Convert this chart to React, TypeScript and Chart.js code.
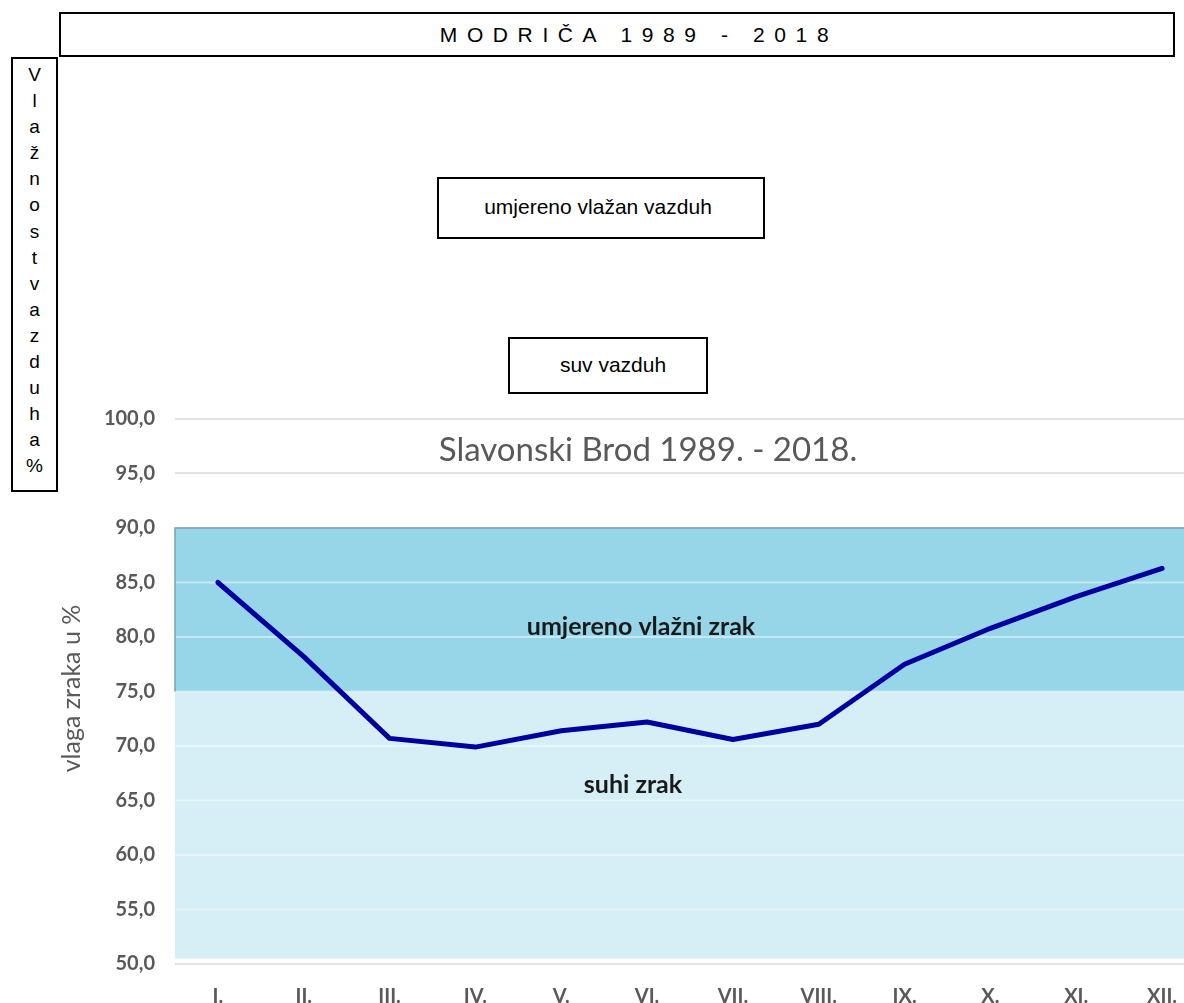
import React, { useEffect, useRef } from "react";
import { Chart, registerables } from "chart.js";

Chart.register(...registerables);

// ---- data ----
const months = ["I.", "II.", "III.", "IV.", "V.", "VI.", "VII.", "VIII.", "IX.", "X.", "XI.", "XII."];
const humidity = [85.0, 78.2, 70.7, 69.9, 71.4, 72.2, 70.6, 72.0, 77.5, 80.8, 83.7, 86.3];
const yTicks = [50, 55, 60, 65, 70, 75, 80, 85, 90, 95, 100];
const bandModerate = [75, 90];
const bandDry = [50.5, 75];
const chartTitle = "Slavonski Brod 1989. - 2018.";
const yAxisTitle = "vlaga zraka u %";
const moderateLabel = "umjereno vlažni zrak";
const dryLabel = "suhi zrak";
const docTitle = "MODRIČA 1989 - 2018";
const docAxisText = "Vlažnost vazduha %";
const boxModerate = "umjereno vlažan vazduh";
const boxDry = "suv vazduh";

const FONT = "Lato, 'Open Sans', sans-serif";
const GRAY = "#595959";

const overlayPlugin = {
  id: "overlay",
  beforeDatasetsDraw(chart: any) {
    const { ctx, chartArea, scales } = chart;
    const y = scales.y;
    const l = chartArea.left;
    const r = chartArea.right;
    const yTop = y.getPixelForValue(bandModerate[1]);
    const yMid = y.getPixelForValue(bandModerate[0]);
    const yBot = y.getPixelForValue(bandDry[0]);
    ctx.save();
    ctx.fillStyle = "#D6EEF6";
    ctx.fillRect(l, yMid, r - l, yBot - yMid);
    ctx.fillStyle = "#97D5E8";
    ctx.fillRect(l, yTop, r - l, yMid - yTop);
    // light grid lines over the bands
    ctx.lineWidth = 2;
    for (const v of yTicks) {
      if (v > bandDry[0] && v < bandModerate[1]) {
        const py = y.getPixelForValue(v);
        ctx.strokeStyle = v > 75 ? "rgba(255,255,255,0.45)" : "rgba(255,255,255,0.4)";
        ctx.beginPath();
        ctx.moveTo(l, py);
        ctx.lineTo(r, py);
        ctx.stroke();
      }
    }
    // band border
    ctx.strokeStyle = "#7F9FAA";
    ctx.lineWidth = 1.5;
    ctx.beginPath();
    ctx.moveTo(l, yMid);
    ctx.lineTo(l, yTop);
    ctx.lineTo(r, yTop);
    ctx.stroke();
    // band labels
    ctx.fillStyle = "#1a1a1a";
    ctx.font = `bold 25px ${FONT}`;
    ctx.textAlign = "center";
    ctx.textBaseline = "middle";
    ctx.fillText(moderateLabel, 641, y.getPixelForValue(80.9));
    ctx.fillText(dryLabel, 633, y.getPixelForValue(66.4));
    // chart title
    ctx.fillStyle = GRAY;
    ctx.font = `33px ${FONT}`;
    ctx.fillText(chartTitle, 648, y.getPixelForValue(97.1));
    // y axis title
    ctx.translate(72, (chartArea.top + chartArea.bottom) / 2 - 3);
    ctx.rotate(-Math.PI / 2);
    ctx.font = `25px ${FONT}`;
    ctx.fillText(yAxisTitle, 0, 0);
    ctx.restore();
  },
};

function ChartCanvas() {
  const ref = useRef<HTMLCanvasElement | null>(null);
  useEffect(() => {
    if (!ref.current) return;
    const chart = new Chart(ref.current, {
      type: "line",
      data: {
        labels: months,
        datasets: [
          {
            data: humidity,
            borderColor: "#0000A0",
            borderWidth: 5,
            pointRadius: 0,
            fill: false,
            tension: 0,
            borderJoinStyle: "round",
            borderCapStyle: "round",
          },
        ],
      },
      options: {
        responsive: false,
        animation: false,
        devicePixelRatio: 1,
        layout: { padding: { top: 19, right: 25, left: 0, bottom: 0 } },
        plugins: { legend: { display: false }, tooltip: { enabled: false }, title: { display: false } },
        scales: {
          x: {
            type: "category",
            offset: true,
            grid: { display: false, drawTicks: false },
            border: { display: false },
            ticks: { padding: 21, color: GRAY, font: { family: FONT, size: 20, weight: "bold" }, maxRotation: 0 },
            afterFit: (s: any) => {
              s.height = 39;
              s.paddingLeft = 0;
              s.paddingRight = 0;
            },
          },
          y: {
            min: 50,
            max: 100,
            afterBuildTicks: (s: any) => {
              s.ticks = yTicks.map((v) => ({ value: v }));
            },
            grid: { color: "#E3E3E3", lineWidth: 2, drawTicks: false },
            border: { display: false },
            ticks: {
              padding: 20,
              color: GRAY,
              font: { family: FONT, size: 20, weight: "bold" },
              callback: (v: any) => Number(v).toFixed(1).replace(".", ","),
            },
            afterFit: (s: any) => {
              s.width = 175;
              s.paddingTop = 0;
              s.paddingBottom = 0;
            },
          },
        },
      },
      plugins: [overlayPlugin],
    });
    return () => chart.destroy();
  }, []);
  return (
    <canvas
      ref={ref}
      width={1230}
      height={603}
      style={{ position: "absolute", left: 0, top: 400, width: 1230, height: 603 }}
    />
  );
}

const boxFont = "Arial, 'Liberation Sans', sans-serif";

export default function App() {
  const letters = docAxisText.replace(/\s/g, "").split("");
  return (
    <div
      style={{
        position: "absolute",
        left: 0,
        top: 0,
        width: 1184,
        height: 1003,
        overflow: "hidden",
        background: "#fff",
      }}
    >
      <ChartCanvas />
      <div
        style={{
          position: "absolute",
          left: 59,
          top: 12,
          width: 1116,
          height: 45,
          boxSizing: "border-box",
          border: "2px solid #000",
          background: "#fff",
          fontFamily: boxFont,
          fontSize: 21,
          letterSpacing: 9.6,
          color: "#000",
          display: "flex",
          alignItems: "center",
          justifyContent: "center",
          paddingLeft: 44,
          whiteSpace: "pre",
        }}
      >
        {docTitle}
      </div>
      <div
        style={{
          position: "absolute",
          left: 11,
          top: 57,
          width: 47,
          height: 435,
          boxSizing: "border-box",
          border: "2px solid #000",
          background: "#fff",
          fontFamily: boxFont,
          fontSize: 19,
          lineHeight: "26.1px",
          color: "#000",
          textAlign: "center",
          paddingTop: 3,
        }}
      >
        {letters.map((c, i) => (
          <div key={i}>{c}</div>
        ))}
      </div>
      <div
        style={{
          position: "absolute",
          left: 437,
          top: 177,
          width: 328,
          height: 62,
          boxSizing: "border-box",
          border: "2px solid #000",
          background: "#fff",
          fontFamily: boxFont,
          fontSize: 21,
          color: "#000",
          display: "flex",
          alignItems: "center",
          justifyContent: "center",
          paddingRight: 6,
          paddingBottom: 2,
        }}
      >
        {boxModerate}
      </div>
      <div
        style={{
          position: "absolute",
          left: 508,
          top: 337,
          width: 200,
          height: 57,
          boxSizing: "border-box",
          border: "2px solid #000",
          background: "#fff",
          fontFamily: boxFont,
          fontSize: 21,
          color: "#000",
          display: "flex",
          alignItems: "center",
          justifyContent: "center",
          paddingLeft: 10,
          paddingBottom: 2,
        }}
      >
        {boxDry}
      </div>
    </div>
  );
}
